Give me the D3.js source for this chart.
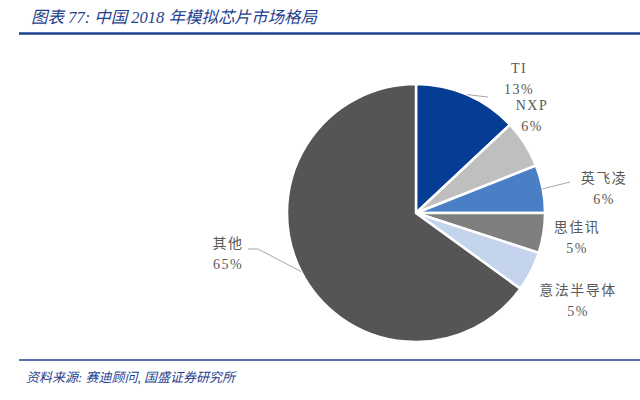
<!DOCTYPE html>
<html>
<head>
<meta charset="utf-8">
<script src="https://cdn.jsdelivr.net/npm/d3@7"></script>
<style>
  body { margin: 0; background: #fff; }
  .title { font-family: "Liberation Serif", "Noto Sans CJK SC"; font-style: italic; fill: #1f3f8f; }
  .lbl { font-family: "Liberation Serif", "Noto Sans CJK SC"; fill: #595959; font-size: 14px; letter-spacing: 1.5px; }
</style>
</head>
<body>
<div id="chart"></div>
<script>
// market share data
const names  = ['TI', 'NXP', '英飞凌', '思佳讯', '意法半导体', '其他']
const shares = [13, 6, 6, 5, 5, 65]
const colors = ['#053c94', '#bfbfbf', '#4a7fc6', '#7f7f7f', '#c3d4ec', '#555555']

const W = 640, H = 400
const cx = 416, cy = 213, R = 129

let svg = d3.select('#chart').append('svg')
            .attr('width', W).attr('height', H)

// header + footer
svg.append('text').attr('class', 'title')
   .attr('x', 31).attr('y', 23).attr('font-size', 16.5)
   .text('图表 77:  中国 2018 年模拟芯片市场格局')
svg.append('line').attr('x1', 19).attr('x2', 640).attr('y1', 33.5).attr('y2', 33.5)
   .attr('stroke', '#1f3f8f').attr('stroke-width', 2.5)
svg.append('line').attr('x1', 19).attr('x2', 640).attr('y1', 360).attr('y2', 360)
   .attr('stroke', '#1f3f8f').attr('stroke-width', 1.5)
svg.append('text').attr('class', 'title')
   .attr('x', 26).attr('y', 382).attr('font-size', 13)
   .text('资料来源:  赛迪顾问, 国盛证券研究所')

let data = names.map((n, i) => ({name: n, value: shares[i], color: colors[i]}))

let pie = d3.pie().value(d => d.value).sort(null)
let arc = d3.arc().innerRadius(0).outerRadius(R)
let arcs = pie(data)

let g = svg.append('g').attr('transform', `translate(${cx},${cy})`)
g.selectAll('path')
 .data(arcs)
 .enter()
 .append('path')
 .attr('d', arc)
 .attr('fill', d => d.data.color)
 .attr('stroke', '#fff')
 .attr('stroke-width', 2.5)

// label anchor offsets (relative to centre) - hand placed like the original
const labelPos = [[103, -140], [116, -103], [188, -30], [161, 19], [162, 82], [-188, 35]]
// leader lines: from arc edge to label side
const leaders = [
  {a: 0, to: [[72, -116]]},
  {a: 2, to: [[154, -31]]},
  {a: 5, to: [[-158, 36], [-168, 36]]}
]

let outer = d3.arc().innerRadius(R).outerRadius(R)
leaders.forEach(l => {
  let p = outer.centroid(arcs[l.a])
  let pts = [p].concat(l.to)
  g.append('path')
   .attr('d', d3.line()(pts))
   .attr('fill', 'none')
   .attr('stroke', '#a6a6a6')
   .attr('stroke-width', 1)
})

let lbl = g.selectAll('.lbl')
 .data(arcs)
 .enter()
 .append('text')
 .attr('class', 'lbl')
 .attr('text-anchor', 'middle')
 .attr('transform', (d, i) => `translate(${labelPos[i][0]},${labelPos[i][1]})`)
lbl.append('tspan').attr('x', 0).attr('y', 0).text(d => d.data.name)
lbl.append('tspan').attr('x', 0).attr('y', 21).text(d => d.data.value + '%')
</script>
</body>
</html>
